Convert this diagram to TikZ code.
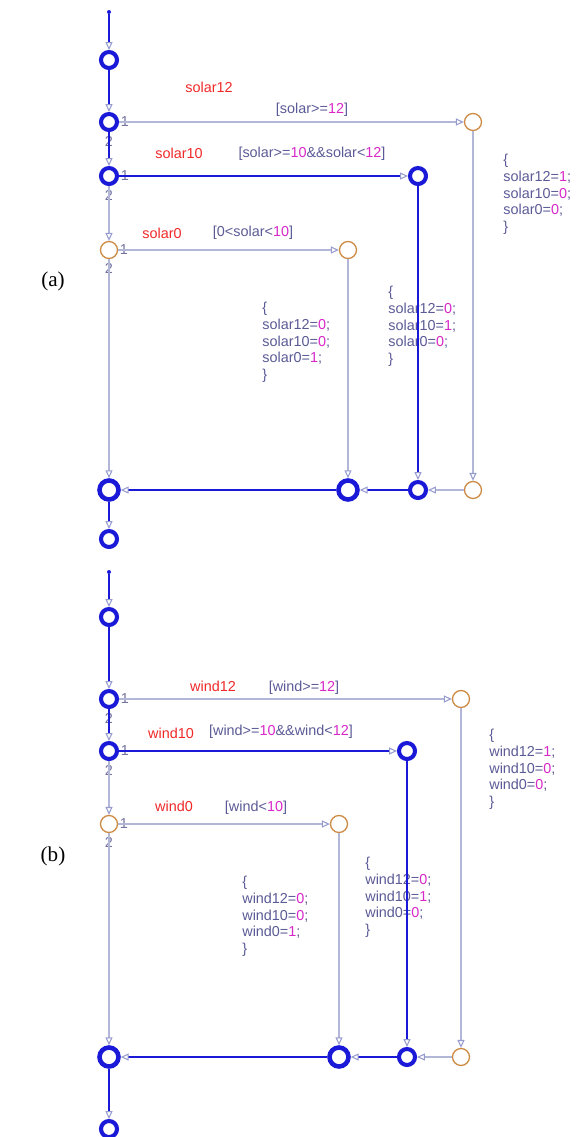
\documentclass[tikz,border=0pt]{standalone}
\usepackage{fontspec}
\setmainfont{Liberation Sans}
\newfontfamily\captfont{Liberation Serif}
\usepackage{tikz}
\usetikzlibrary{arrows.meta}

\definecolor{bluec}{RGB}{25,25,215}
\definecolor{linec}{RGB}{178,182,215}
\definecolor{arrc}{RGB}{150,155,205}
\definecolor{orc}{RGB}{205,140,70}
\definecolor{txtc}{RGB}{90,90,150}
\definecolor{numc}{RGB}{215,40,200}
\definecolor{redc}{RGB}{240,40,40}
\definecolor{portc}{RGB}{115,115,160}

\newcommand\nv[1]{\textcolor{numc}{#1}}

\tikzset{
  st/.style={circle, draw=bluec, line width=2.3pt, minimum size=0.32cm, inner sep=0pt},
  bigst/.style={st, line width=2.6pt, minimum size=0.38cm},
  jn/.style={circle, draw=orc, line width=0.75pt, minimum size=0.34cm, inner sep=0pt},
  dot/.style={circle, fill=bluec, minimum size=0.08cm, inner sep=0pt},
  tr/.style={draw=linec, line width=0.6pt, -{Triangle[open, length=4.5pt, width=4pt, line width=0.6pt, color=arrc]}},
  trb/.style={tr, draw=bluec, line width=1.4pt},
  lbl/.style={text=txtc, font=\fontsize{8.2}{9.5}\selectfont, inner sep=0pt},
  evname/.style={lbl, text=redc},
  code/.style={lbl, align=left, anchor=north west},
  num/.style={lbl, text=portc, xshift=0.8pt},
  numb/.style={lbl, text=portc, yshift=-2.2pt},
  capt/.style={font=\captfont\fontsize{12}{14}\selectfont, inner sep=0pt}
}

\begin{document}
\begin{tikzpicture}[x=0.02cm, y=-0.02cm]
\useasboundingbox (0,0) rectangle (578,1137);

% (a) solar
\node[capt] (capa) at (53,281) {(a)};
\node[dot] (sa) at (109,12) {};
\node[st] (a1) at (109,60) {};
\node[st, label={[num,name=a2r]right:1}, label={[numb,name=a2b]below:2}] (a2) at (109,122) {};
\node[st, label={[num,name=a3r]right:1}, label={[numb,name=a3b]below:2}] (a3) at (109,176) {};
\node[jn, label={[num,name=a4r]right:1}, label={[numb,name=a4b]below:2}] (a4) at (109,250) {};
\node[bigst] (a5) at (109,490) {};
\node[st] (a6) at (109,539) {};
\node[jn] (r12) at (473,122) {};
\node[st] (r10) at (418,176) {};
\node[jn] (r0) at (348,250) {};
\node[bigst] (j0) at (348,490) {};
\node[st] (j10) at (418,490) {};
\node[jn] (j12) at (473,490) {};

\node[evname] (ev12a) at (209,87) {solar12};
\node[lbl] (gd12a) at (312,110) {[solar>=\nv{12}]};
\node[evname] (ev10a) at (179,153) {solar10};
\node[lbl] (gd10a) at (312,154) {[solar>=\nv{10}\&\&solar<\nv{12}]};
\node[evname] (ev0a) at (162,233) {solar0};
\node[lbl] (gd0a) at (253,233) {[0<solar<\nv{10}]};
\node[code] (ac12a) at (503,154) {\{\\solar12=\nv{1};\\solar10=\nv{0};\\solar0=\nv{0};\\\}};
\node[code] (ac10a) at (388,286) {\{\\solar12=\nv{0};\\solar10=\nv{1};\\solar0=\nv{0};\\\}};
\node[code] (ac0a) at (262,302) {\{\\solar12=\nv{0};\\solar10=\nv{0};\\solar0=\nv{1};\\\}};

\draw[trb] (sa) -- (a1);
\draw[trb] (a1) -- (a2);
\draw[trb] (a2) -- (a3);
\draw[tr] (a3) -- (a4);
\draw[tr] (a4) -- (a5);
\draw[trb] (a5) -- (a6);
\draw[tr] (a2) -- (r12);
\draw[trb] (a3) -- (r10);
\draw[tr] (a4) -- (r0);
\draw[tr] (r12) -- (j12);
\draw[trb] (r10) -- (j10);
\draw[tr] (r0) -- (j0);
\draw[tr] (j12) -- (j10);
\draw[trb] (j10) -- (j0);
\draw[trb] (j0) -- (a5);

% (b) wind
\node[capt] (capb) at (53,856) {(b)};
\node[dot] (sb) at (109,572) {};
\node[st] (b1) at (109,617) {};
\node[st, label={[num,name=b2r]right:1}, label={[numb,name=b2b]below:2}] (b2) at (109,699) {};
\node[st, label={[num,name=b3r]right:1}, label={[numb,name=b3b]below:2}] (b3) at (109,751) {};
\node[jn, label={[num,name=b4r]right:1}, label={[numb,name=b4b]below:2}] (b4) at (109,824) {};
\node[bigst] (b5) at (109,1057) {};
\node[st] (b6) at (109,1129) {};
\node[jn] (s12) at (461,699) {};
\node[st] (s10) at (407,751) {};
\node[jn] (s0) at (339,824) {};
\node[bigst] (k0) at (339,1057) {};
\node[st] (k10) at (407,1057) {};
\node[jn] (k12) at (461,1057) {};

\node[evname] (ev12b) at (213,686) {wind12};
\node[lbl] (gd12b) at (304,688) {[wind>=\nv{12}]};
\node[evname] (ev10b) at (171,733) {wind10};
\node[lbl] (gd10b) at (281,732) {[wind>=\nv{10}\&\&wind<\nv{12}]};
\node[evname] (ev0b) at (174,806) {wind0};
\node[lbl] (gd0b) at (256,808) {[wind<\nv{10}]};
\node[code] (ac12b) at (489,729) {\{\\wind12=\nv{1};\\wind10=\nv{0};\\wind0=\nv{0};\\\}};
\node[code] (ac10b) at (365,857) {\{\\wind12=\nv{0};\\wind10=\nv{1};\\wind0=\nv{0};\\\}};
\node[code] (ac0b) at (242,876) {\{\\wind12=\nv{0};\\wind10=\nv{0};\\wind0=\nv{1};\\\}};

\draw[trb] (sb) -- (b1);
\draw[trb] (b1) -- (b2);
\draw[trb] (b2) -- (b3);
\draw[tr] (b3) -- (b4);
\draw[tr] (b4) -- (b5);
\draw[trb] (b5) -- (b6);
\draw[tr] (b2) -- (s12);
\draw[trb] (b3) -- (s10);
\draw[tr] (b4) -- (s0);
\draw[tr] (s12) -- (k12);
\draw[trb] (s10) -- (k10);
\draw[tr] (s0) -- (k0);
\draw[tr] (k12) -- (k10);
\draw[trb] (k10) -- (k0);
\draw[trb] (k0) -- (b5);
\end{tikzpicture}
\end{document}
